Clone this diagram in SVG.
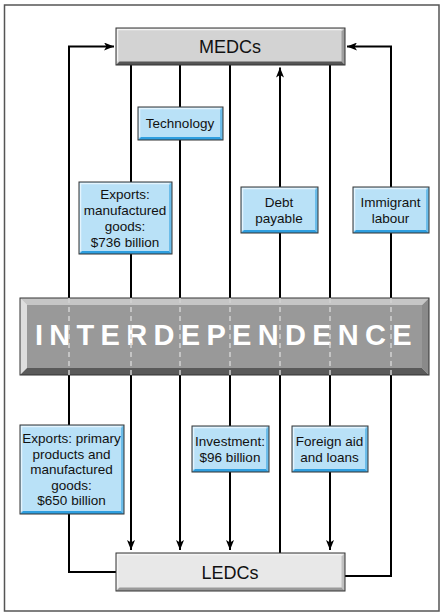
<svg xmlns="http://www.w3.org/2000/svg" width="440" height="612" viewBox="0 0 440 612">
<defs>
<marker id="arr" viewBox="0 0 10 8" refX="10" refY="4" markerWidth="11" markerHeight="8" orient="auto" markerUnits="userSpaceOnUse">
<path d="M0,0 L10,4 L0,8 L2.5,4 z" fill="#000"/>
</marker>
<style>
.frame{fill:#fff;stroke:#555;stroke-width:1.5}
.conn{fill:none;stroke:#000;stroke-width:2}
.outline{fill:none;stroke:#333;stroke-width:1}
.gface{fill:#d3d3d3}
.gright{fill:#9e9e9e}
.gbot{fill:#555}
.lface{fill:#e8e8e8}
.lright{fill:#c0c0c0}
.lbot{fill:#9a9a9a}
.hl{fill:none;stroke:#f4f4f4;stroke-width:1.5}
.bface{fill:#b9e1f7}
.bright{fill:#6cbdea}
.bbot{fill:#2f9fe0}
.bhl{fill:none;stroke:#e4f4fd;stroke-width:1.5}
.t{font-family:"Liberation Sans",Arial,sans-serif;fill:#111;text-anchor:middle}
.big{font-size:18px}
.sm{font-size:13.5px}
.dash{stroke:#d2d2d2;stroke-width:1.5;stroke-dasharray:5 4}
</style>
</defs>
<rect class="frame" x="4.5" y="5" width="434.5" height="606"/>
<g id="connectors">
<path class="conn" d="M116,572 H69 V46.5 H114" marker-end="url(#arr)"/>
<path class="conn" d="M345,576 H391 V46.5 H347" marker-end="url(#arr)"/>
<path class="conn" d="M131,65 V550" marker-end="url(#arr)"/>
<path class="conn" d="M180,65 V550" marker-end="url(#arr)"/>
<path class="conn" d="M230,65 V550" marker-end="url(#arr)"/>
<path class="conn" d="M280,553 V67.5" marker-end="url(#arr)"/>
<path class="conn" d="M330,65 V550" marker-end="url(#arr)"/>
</g>
<g id="medcs">
<rect class="gface" x="116" y="28" width="229" height="37"/>
<path class="hl" d="M117.5,61.5 V29.5 H341.5"/>
<polygon class="gright" points="345,28 345,65 341.5,61.5 341.5,31.5"/>
<polygon class="gbot" points="116,65 345,65 341.5,61.5 119.5,61.5"/>
<rect class="outline" x="116" y="28" width="229" height="37"/>
<text class="t big" x="230" y="53">MEDCs</text>
</g>
<g id="ledcs">
<rect class="lface" x="116" y="553" width="229" height="38"/>
<path class="hl" d="M117.5,587.5 V554.5 H341.5"/>
<polygon class="lright" points="345,553 345,591 341.5,587.5 341.5,556.5"/>
<polygon class="lbot" points="116,591 345,591 341.5,587.5 119.5,587.5"/>
<rect class="outline" x="116" y="553" width="229" height="38"/>
<text class="t big" x="230" y="578.5">LEDCs</text>
</g>
<g id="interdependence">
<rect x="27" y="305" width="395" height="63" fill="#999"/>
<polygon points="20,298 27,305 27,368 20,375" fill="#dedede"/>
<polygon points="20,298 429,298 422,305 27,305" fill="#c6c6c6"/>
<polygon points="429,298 429,375 422,368 422,305" fill="#8a8a8a"/>
<polygon points="20,375 429,375 422,368 27,368" fill="#5a5a5a"/>
<rect class="outline" x="20" y="298" width="409" height="77" stroke="#444"/>
<text x="35" y="345" font-family="'Liberation Sans',Arial,sans-serif" font-weight="bold" font-size="29" letter-spacing="6.3" fill="#fff">INTERDEPENDENCE</text>
<g class="dash">
<line x1="69" y1="298" x2="69" y2="375"/>
<line x1="131" y1="298" x2="131" y2="375"/>
<line x1="180" y1="298" x2="180" y2="375"/>
<line x1="230" y1="298" x2="230" y2="375"/>
<line x1="280" y1="298" x2="280" y2="375"/>
<line x1="330" y1="298" x2="330" y2="375"/>
<line x1="391" y1="298" x2="391" y2="375"/>
</g>
</g>
<g id="technology">
<rect class="bface" x="138" y="107" width="85" height="33"/>
<path class="bhl" d="M139.5,137 V108.5 H220"/>
<polygon class="bright" points="223,107 223,140 220,137 220,110"/>
<polygon class="bbot" points="138,140 223,140 220,137 141,137"/>
<rect class="outline" x="138" y="107" width="85" height="33"/>
<text class="t sm" x="180" y="128">Technology</text>
</g>
<g id="exports-manufactured">
<rect class="bface" x="79" y="182" width="93" height="72"/>
<path class="bhl" d="M80.5,251 V183.5 H169"/>
<polygon class="bright" points="172,182 172,254 169,251 169,185"/>
<polygon class="bbot" points="79,254 172,254 169,251 82,251"/>
<rect class="outline" x="79" y="182" width="93" height="72"/>
<text class="t sm" x="125" y="198.5">Exports:</text>
<text class="t sm" x="125" y="214.5">manufactured</text>
<text class="t sm" x="125" y="230.5">goods:</text>
<text class="t sm" x="125" y="246.5">$736 billion</text>
</g>
<g id="debt">
<rect class="bface" x="241" y="187" width="77" height="46"/>
<path class="bhl" d="M242.5,230 V188.5 H315"/>
<polygon class="bright" points="318,187 318,233 315,230 315,190"/>
<polygon class="bbot" points="241,233 318,233 315,230 244,230"/>
<rect class="outline" x="241" y="187" width="77" height="46"/>
<text class="t sm" x="279" y="206.5">Debt</text>
<text class="t sm" x="279" y="222.5">payable</text>
</g>
<g id="immigrant">
<rect class="bface" x="353" y="187" width="76" height="46"/>
<path class="bhl" d="M354.5,230 V188.5 H426"/>
<polygon class="bright" points="429,187 429,233 426,230 426,190"/>
<polygon class="bbot" points="353,233 429,233 426,230 356,230"/>
<rect class="outline" x="353" y="187" width="76" height="46"/>
<text class="t sm" x="390.5" y="206.5">Immigrant</text>
<text class="t sm" x="390.5" y="222.5">labour</text>
</g>
<g id="exports-primary">
<rect class="bface" x="20" y="425" width="104" height="89"/>
<path class="bhl" d="M21.5,511 V426.5 H121"/>
<polygon class="bright" points="124,425 124,514 121,511 121,428"/>
<polygon class="bbot" points="20,514 124,514 121,511 23,511"/>
<rect class="outline" x="20" y="425" width="104" height="89"/>
<text class="t sm" x="71.5" y="443.2">Exports: primary</text>
<text class="t sm" x="71.5" y="458.7">products and</text>
<text class="t sm" x="71.5" y="474.2">manufactured</text>
<text class="t sm" x="71.5" y="489.7">goods:</text>
<text class="t sm" x="71.5" y="505.2">$650 billion</text>
</g>
<g id="investment">
<rect class="bface" x="192" y="426" width="77" height="46"/>
<path class="bhl" d="M193.5,469 V427.5 H266"/>
<polygon class="bright" points="269,426 269,472 266,469 266,429"/>
<polygon class="bbot" points="192,472 269,472 266,469 195,469"/>
<rect class="outline" x="192" y="426" width="77" height="46"/>
<text class="t sm" x="230" y="445.7">Investment:</text>
<text class="t sm" x="230" y="461.5">$96 billion</text>
</g>
<g id="foreign-aid">
<rect class="bface" x="292" y="426" width="76" height="46"/>
<path class="bhl" d="M293.5,469 V427.5 H365"/>
<polygon class="bright" points="368,426 368,472 365,469 365,429"/>
<polygon class="bbot" points="292,472 368,472 365,469 295,469"/>
<rect class="outline" x="292" y="426" width="76" height="46"/>
<text class="t sm" x="329.5" y="445.7">Foreign aid</text>
<text class="t sm" x="329.5" y="461.5">and loans</text>
</g>
</svg>
